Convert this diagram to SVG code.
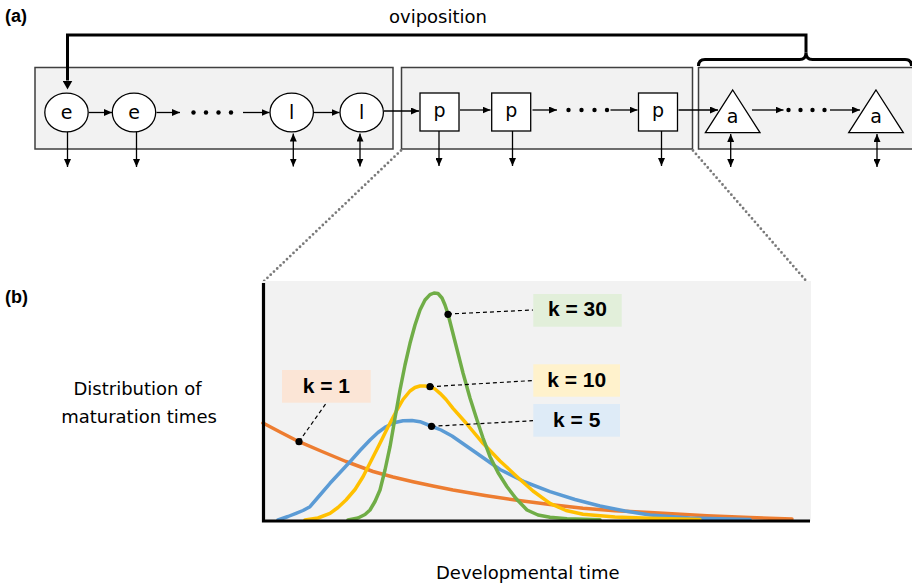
<svg xmlns="http://www.w3.org/2000/svg" width="912" height="583" viewBox="0 0 912 583">
  <style>
    .lbl { font-family: "DejaVu Sans", "Liberation Sans", sans-serif; font-size: 18px; fill: #000; }
    .node-lbl { font-family: "DejaVu Sans", "Liberation Sans", sans-serif; font-size: 19px; fill: #000; text-anchor: middle; }
    .panel { font-family: "Liberation Sans", Arial, sans-serif; font-size: 18px; font-weight: bold; fill: #000; }
    .klbl { font-family: "Liberation Sans", Arial, sans-serif; font-size: 21px; font-weight: bold; fill: #000; text-anchor: middle; }
    .stage { fill: #f2f2f2; stroke: #3f3f3f; stroke-width: 1.5; }
    .node { fill: #fff; stroke: #000; stroke-width: 1.3; }
    .arr { fill: none; stroke: #000; stroke-width: 1.3; marker-end: url(#head); }
    .arr2 { fill: none; stroke: #000; stroke-width: 1.3; marker-start: url(#head); marker-end: url(#head); }
    .dot { fill: #000; }
    .zoomline { fill: none; stroke: #7a7a7a; stroke-width: 2.8; stroke-dasharray: 0 4.5; stroke-linecap: round; }
    .curve { fill: none; stroke-width: 3.5; stroke-linejoin: round; stroke-linecap: round; }
    .leader { fill: none; stroke: #000; stroke-width: 1.2; stroke-dasharray: 4 3; }
  </style>
  <defs>
    <marker id="head" viewBox="0 0 8 7" refX="8" refY="3.5" markerWidth="8" markerHeight="7" markerUnits="userSpaceOnUse" orient="auto-start-reverse">
      <path d="M0,0 L8,3.5 L0,7 z" fill="#000"/>
    </marker>
    <marker id="bighead" viewBox="0 0 10 10" refX="0" refY="5" markerWidth="10" markerHeight="10" markerUnits="userSpaceOnUse" orient="auto">
      <path d="M0,0 L9,5 L0,10 z" fill="#000"/>
    </marker>
  </defs>

  <rect width="912" height="583" fill="#fff"/>

  <!-- panel (a): life-cycle stages -->
  <text class="panel" x="5" y="22">(a)</text>
  <text class="lbl" x="438" y="23" text-anchor="middle">oviposition</text>

  <g id="stage-egg-larva"><rect class="stage" x="35" y="67.5" width="358" height="81.5"/></g>
  <g id="stage-pupa"><rect class="stage" x="401.5" y="67.5" width="291" height="81.5"/></g>
  <g id="stage-adult"><rect class="stage" x="698.5" y="67.5" width="220" height="81.5"/></g>

  <g id="e1"><ellipse class="node" cx="66.5" cy="112.5" rx="21.7" ry="19.3"/><text class="node-lbl" x="66.5" y="119">e</text></g>
  <g id="e2"><ellipse class="node" cx="134" cy="112.5" rx="21.7" ry="19.3"/><text class="node-lbl" x="134" y="119">e</text></g>
  <g id="l1"><ellipse class="node" cx="291.7" cy="112.5" rx="21.7" ry="19.3"/><text class="node-lbl" x="291.7" y="119">l</text></g>
  <g id="l2"><ellipse class="node" cx="361.7" cy="112.5" rx="21.7" ry="19.3"/><text class="node-lbl" x="361.7" y="119">l</text></g>

  <g id="p1"><rect class="node" x="420" y="93" width="39" height="38"/><text class="node-lbl" x="439.5" y="117">p</text></g>
  <g id="p2"><rect class="node" x="491.7" y="93" width="39" height="38"/><text class="node-lbl" x="511.2" y="117">p</text></g>
  <g id="p3"><rect class="node" x="638.5" y="93" width="39" height="38"/><text class="node-lbl" x="658" y="117">p</text></g>

  <g id="a1"><path class="node" d="M732.7,90 L760,132.7 L705.4,132.7 z"/><text class="node-lbl" x="732.7" y="123">a</text></g>
  <g id="a2"><path class="node" d="M876,90 L903.3,132.7 L848.7,132.7 z"/><text class="node-lbl" x="876" y="123">a</text></g>

  <g id="connectors">
    <!-- oviposition feedback from adults to eggs -->
    <path d="M806,52.5 V35 H67.5 V80.5" fill="none" stroke="#000" stroke-width="3" marker-end="url(#bighead)"/>
    <path d="M698.5,66 Q698.5,59.5 705,59.5 H799.5 Q806,59.5 806,52.5 Q806,59.5 812.5,59.5 H905 Q911.5,59.5 911.5,66" fill="none" stroke="#000" stroke-width="3"/>

    <!-- transitions -->
    <line class="arr" x1="89" y1="112.5" x2="112" y2="112.5"/>
    <line class="arr" x1="156.5" y1="112.5" x2="180" y2="112.5"/>
    <line class="arr" x1="243" y1="112.5" x2="269.5" y2="112.5"/>
    <line class="arr" x1="314" y1="112.5" x2="339.5" y2="112.5"/>
    <line class="arr" x1="384" y1="111" x2="419" y2="111"/>
    <line class="arr" x1="460" y1="110" x2="490.5" y2="110"/>
    <line class="arr" x1="532.5" y1="110" x2="557" y2="110"/>
    <line class="arr" x1="610.5" y1="110" x2="637.5" y2="110"/>
    <line class="arr" x1="678.5" y1="110" x2="718" y2="110"/>
    <line class="arr" x1="752" y1="110" x2="783.5" y2="110"/>
    <line class="arr" x1="830" y1="110" x2="860" y2="110"/>

    <!-- ellipsis dots -->
    <circle class="dot" cx="193.5" cy="112.5" r="2.2"/>
    <circle class="dot" cx="206" cy="112.5" r="2.2"/>
    <circle class="dot" cx="218.5" cy="112.5" r="2.2"/>
    <circle class="dot" cx="231" cy="112.5" r="2.2"/>
    <circle class="dot" cx="568.5" cy="110" r="2.2"/>
    <circle class="dot" cx="581.5" cy="110" r="2.2"/>
    <circle class="dot" cx="594.5" cy="110" r="2.2"/>
    <circle class="dot" cx="607" cy="110" r="2.2"/>
    <circle class="dot" cx="788.5" cy="110" r="2.2"/>
    <circle class="dot" cx="800.5" cy="110" r="2.2"/>
    <circle class="dot" cx="812.5" cy="110" r="2.2"/>
    <circle class="dot" cx="824.5" cy="110" r="2.2"/>

    <!-- losses and exchanges -->
    <line class="arr" x1="67.5" y1="132" x2="67.5" y2="167"/>
    <line class="arr" x1="136.5" y1="132" x2="136.5" y2="167"/>
    <line class="arr2" x1="293.3" y1="133.5" x2="293.3" y2="166.5"/>
    <line class="arr2" x1="360" y1="133.5" x2="360" y2="166.5"/>
    <line class="arr" x1="439" y1="131" x2="439" y2="166"/>
    <line class="arr" x1="512.5" y1="131" x2="512.5" y2="166"/>
    <line class="arr" x1="661.5" y1="131" x2="661.5" y2="166"/>
    <line class="arr2" x1="730.7" y1="134" x2="730.7" y2="167"/>
    <line class="arr2" x1="877" y1="134" x2="877" y2="167"/>

    <!-- zoom guides to panel (b) -->
    <line class="zoomline" x1="401" y1="150.5" x2="262" y2="283"/>
    <line class="zoomline" x1="693" y1="150.5" x2="808" y2="283"/>
  </g>

  <!-- panel (b): maturation-time distributions -->
  <text class="panel" x="5" y="303">(b)</text>
  <text class="lbl" x="137.5" y="395" text-anchor="middle">Distribution of</text>
  <text class="lbl" x="139" y="423" text-anchor="middle">maturation times</text>
  <text class="lbl" x="436" y="579">Developmental time</text>

  <g id="plot">
    <rect x="262" y="281" width="549" height="240" fill="#f2f2f2"/>

    <polyline class="curve" stroke="#ED7D31" points="263,423 281,432.5 299,441.7 322,451.5 346,461.5 373,471.5 393,477 413,481.7 433,486 453,490 485,495.5 517,500.3 550,504.5 583,508.3 615,510.7 650,512.5 707,515.7 750,517.5 792,519"/>

    <polyline class="curve" stroke="#5B9BD5" points="278,520 288,516.5 296,513.3 303,510.5 310,506.7 320,495 330,483.3 340,472.5 350,461.7 360,450.5 370,440 378,432.5 386,426.7 394,422.8 403,420.8 412,420.6 420,421.7 431,426 441,430 452,436 475,452 500,469.5 525,482 550,491.7 575,499.5 600,506 625,511 650,515 690,518 750,519.5"/>

    <polyline class="curve" stroke="#FFC000" points="305,520 318,518 330,513.3 338,507.5 346,500 355,489.5 363,476.7 371,461 380,443.3 388,427 396,411.7 403,399.5 410,391 415,387.5 420,386 425,386 430,386.7 435,389 440,393.3 446,399.5 453,408.3 466,423 483,443.3 500,461 517,476.7 533,491 550,503.3 566,510.5 583,514.3 615,517 650,518.3 700,519.5"/>

    <polyline class="curve" stroke="#70AD47" points="348,520 358,518 365,514.5 370,510 375,501.5 380,490 385,470 390,446.7 395,418 400,390 405,365 410,343.3 415,325 420,310 425,300 430,294.6 434,293 438,293.5 442,298 445,305 448,314 455,341.5 463,373 470,398 477,420 483,438 490,456.7 498,472.5 507,486.7 516,498.5 527,510 538,515 550,517.3 567,518.7 600,519.7"/>

    <path d="M263.5,283 V521 H810" fill="none" stroke="#000" stroke-width="3.2"/>
  </g>

  <g id="label-k30">
    <rect x="533.3" y="294" width="88.4" height="32.7" fill="#E2EFDA"/>
    <text class="klbl" x="577.5" y="316">k = 30</text>
    <line class="leader" x1="448" y1="314" x2="533" y2="310"/>
    <circle class="dot" cx="448" cy="314.3" r="3.6"/>
  </g>
  <g id="label-k10">
    <rect x="533.3" y="364.3" width="86.7" height="32.4" fill="#FFF2CC"/>
    <text class="klbl" x="576.7" y="386.5">k = 10</text>
    <line class="leader" x1="430" y1="386.7" x2="533" y2="380.5"/>
    <circle class="dot" cx="430" cy="386.7" r="3.6"/>
  </g>
  <g id="label-k5">
    <rect x="533.3" y="404" width="86.7" height="32.7" fill="#DEEBF7"/>
    <text class="klbl" x="576.7" y="427">k = 5</text>
    <line class="leader" x1="431.5" y1="426.3" x2="533" y2="420.7"/>
    <circle class="dot" cx="431.5" cy="426.3" r="3.6"/>
  </g>
  <g id="label-k1">
    <rect x="282" y="370" width="88.7" height="32.7" fill="#FBE5D6"/>
    <text class="klbl" x="326.3" y="392.5">k = 1</text>
    <line class="leader" x1="299" y1="441.7" x2="326.3" y2="403"/>
    <circle class="dot" cx="299" cy="441.7" r="3.6"/>
  </g>
</svg>
